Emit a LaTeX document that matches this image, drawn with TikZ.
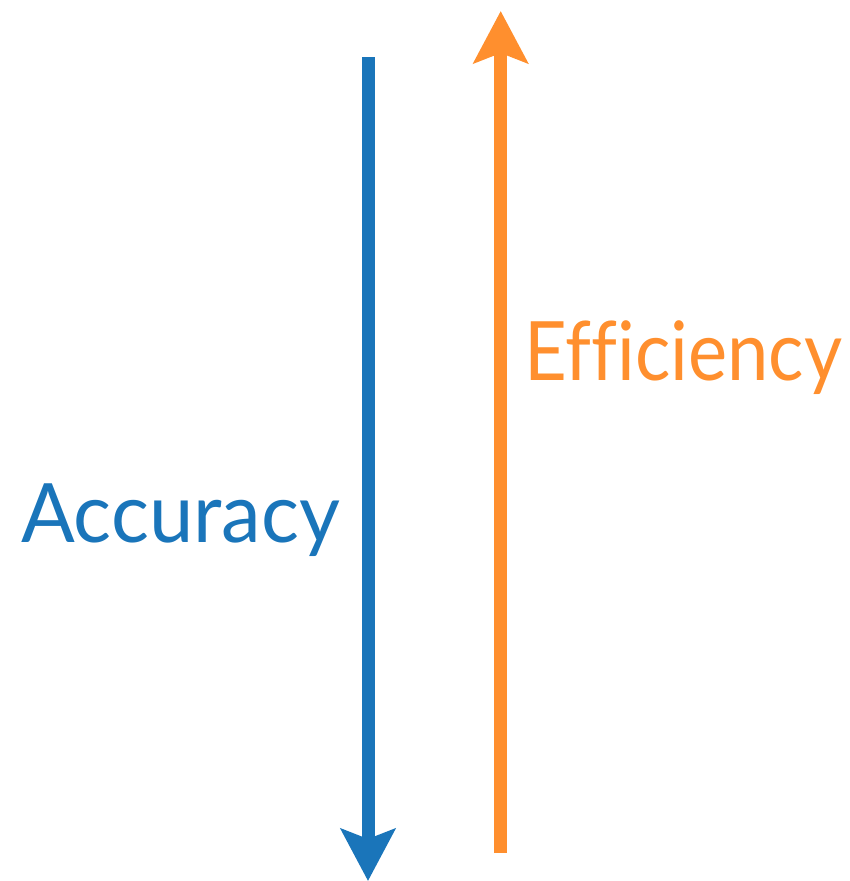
\documentclass[tikz,border=0pt]{standalone}
\usepackage{fontspec}
\setmainfont{Lato}[Ligatures=NoCommon]
\usetikzlibrary{arrows.meta}
\definecolor{accblue}{RGB}{26,117,186}
\definecolor{efforange}{RGB}{255,143,46}
\tikzset{
  bigarrow/.style={line width=13pt, -{Stealth[length=52pt,width=54pt,inset=10pt]}},
  biglabel/.style={inner sep=0pt, anchor=base west, font=\fontsize{82}{82}\selectfont}
}
\begin{document}
\begin{tikzpicture}[x=1pt,y=-1pt]
  \useasboundingbox (0,0) rectangle (849,881);
  % downward arrow: accuracy
  \coordinate (accTop) at (368,57);
  \coordinate (accEnd) at (368,881);
  \draw[bigarrow, accblue] (accTop) -- (accEnd);
  % upward arrow: efficiency
  \coordinate (effStart) at (500.7,853);
  \coordinate (effTip) at (500.7,11);
  \draw[bigarrow, efforange] (effStart) -- (effTip);
  % labels, set to fixed widths
  \node[biglabel, text=accblue] (accLabel) at (21,542) {\resizebox{319pt}{\height}{Accuracy}};
  \node[biglabel, text=efforange] (effLabel) at (524,380) {\resizebox{318pt}{\height}{Efficiency}};
\end{tikzpicture}
\end{document}
